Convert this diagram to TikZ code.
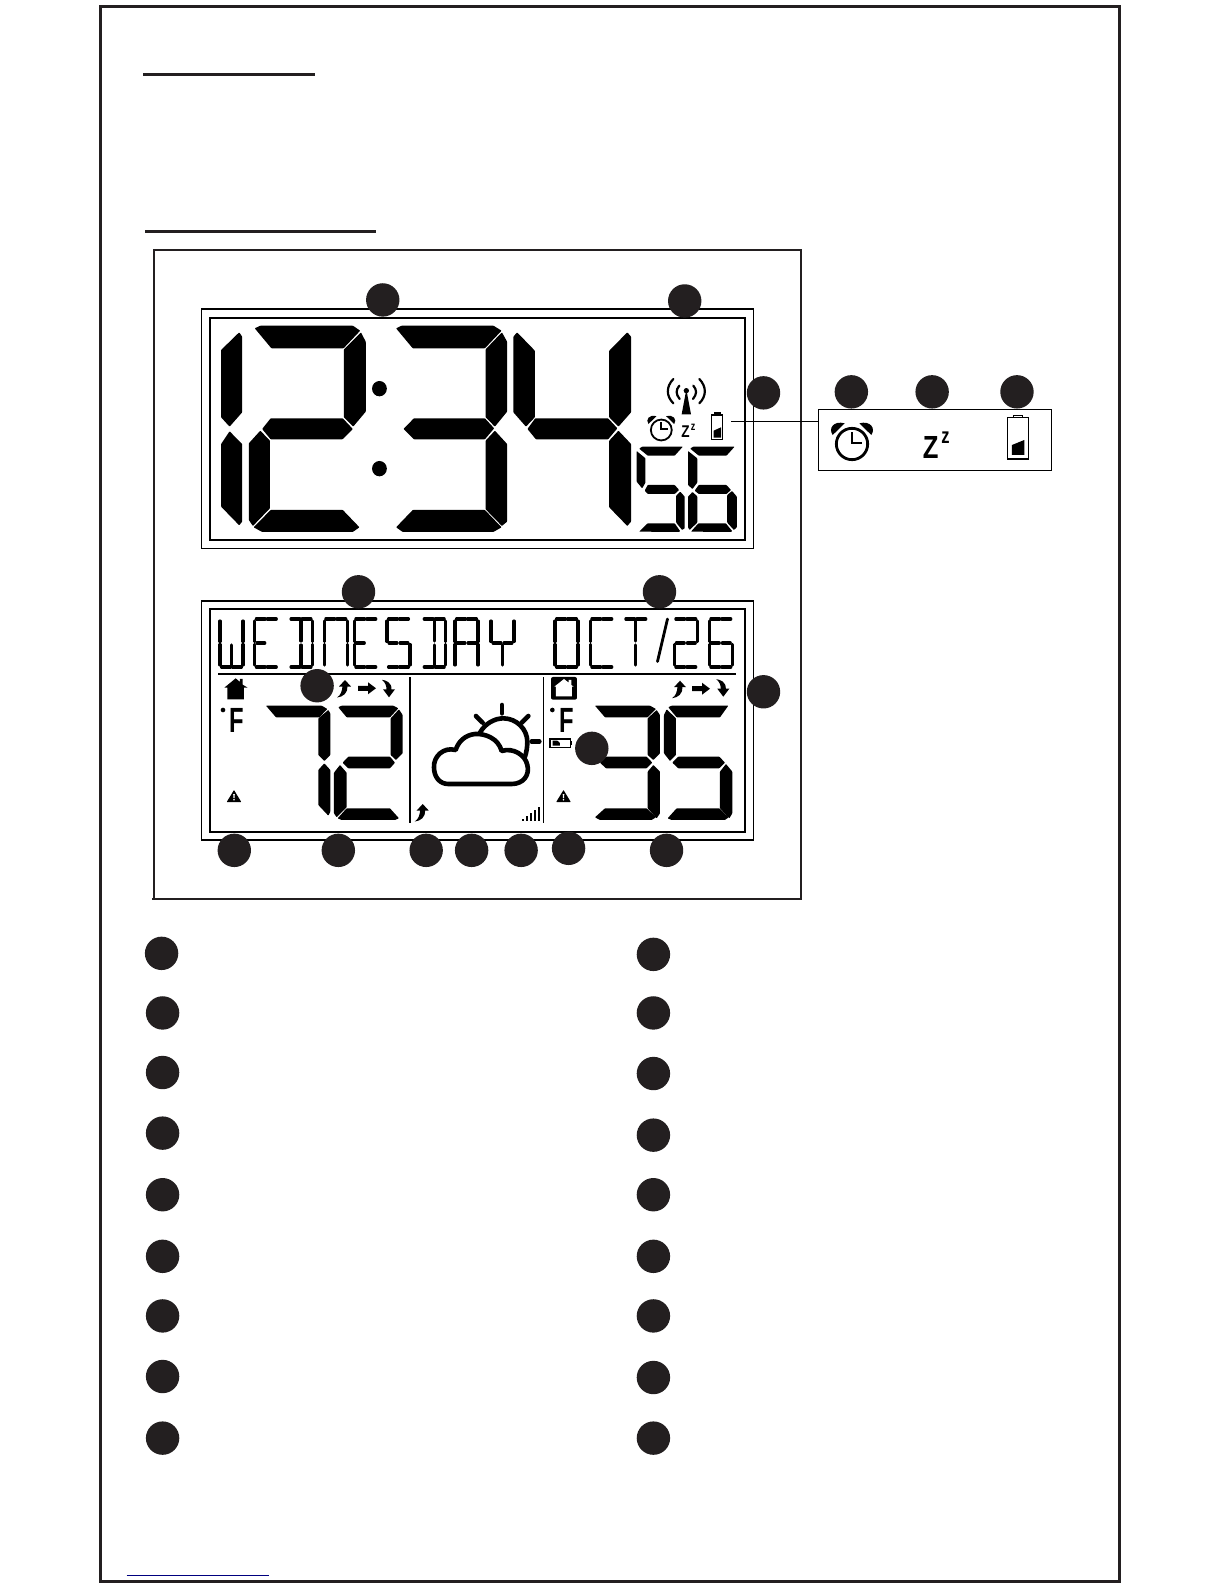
\documentclass[tikz,border=0pt]{standalone}
\usepackage{fontspec}
\setmainfont{Liberation Sans}
\definecolor{ink}{HTML}{231F20}
\definecolor{navy}{HTML}{00007F}
\tikzset{
  dotmark/.style={circle,fill=ink,inner sep=0pt,minimum size=33.4pt,draw=none},
  frameline/.style={draw=black,line width=1.2pt},
  innerline/.style={draw=black,line width=1.8pt},
  lcdline/.style={draw=black,line width=3.1pt,line cap=round},
  seg/.style={fill=black,rounded corners=0.6pt},
  wx/.style={draw=black,line width=4.6pt,line cap=round,line join=round},
  z1/.style={shift={(190,290)},x=0.37pt,y=-0.3333pt},
  z2/.style={shift={(190,590)},x=0.3333pt,y=-0.3333pt},
  z3/.style={shift={(480,590)},x=0.3333pt,y=-0.3333pt},
  z4/.style={shift={(640,370)},x=0.3333pt,y=-0.3333pt},
  z10/.style={shift={(420,690)},x=0.3333pt,y=-0.3333pt}
}
% 14-segment glyph parts, relative to glyph origin; 25 wide, 50 high
\newcommand\SgT{\draw[lcdline] (2.5,1)--(11.5,1) (13.5,1)--(22.5,1);}
\newcommand\SgB{\draw[lcdline] (2.5,49)--(11.5,49) (13.5,49)--(22.5,49);}
\newcommand\SgTL{\draw[lcdline] (1,3)--(1,23.5);}
\newcommand\SgBL{\draw[lcdline] (1,26.5)--(1,47);}
\newcommand\SgTR{\draw[lcdline] (24,3)--(24,23.5);}
\newcommand\SgBR{\draw[lcdline] (24,26.5)--(24,47);}
\newcommand\SgML{\draw[lcdline] (3,25)--(11,25);}
\newcommand\SgMR{\draw[lcdline] (14,25)--(22,25);}
\newcommand\SgCT{\draw[lcdline] (12.5,3)--(12.5,23);}
\newcommand\SgCB{\draw[lcdline] (12.5,27)--(12.5,47);}
\newcommand\lcdglyph[2]{\begin{scope}[shift={(#1,618)}]#2\end{scope}}
\newcommand\uparrowicon[2]{\begin{scope}[shift={(#1,#2)}]
  \fill (-6,6.5)--(0,0)--(6,6.5)--cycle;
  \fill (-2.5,6)--(2.5,6) .. controls (3,13) and (-2,17) .. (-8,17.5) .. controls (-4,15) and (-3,11) .. cycle;
\end{scope}}
\newcommand\rightarrowicon[2]{\begin{scope}[shift={(#1,#2)}]
  \fill (-18,-2.5)--(-8,-2.5)--(-8,-6)--(0,0)--(-8,6)--(-8,2.5)--(-18,2.5)--cycle;
\end{scope}}
\newcommand\downarrowicon[2]{\begin{scope}[shift={(#1,#2)}]
  \fill (-6,-8)--(0,0)--(6,-8)--cycle;
  \fill (-2.5,-7.5)--(2.5,-7.5) .. controls (3,-15) and (-3,-17) .. (-7,-17.5) .. controls (-4,-15) and (-2.5,-12) .. cycle;
\end{scope}}
\newcommand\alarmicon[4]{\begin{scope}[shift={(#1,#2)},x=#3pt,y=-#3pt]
  \draw[line width=#4pt] (0,0) circle[radius=47];
  \draw[line width=#4pt] (0,-36)--(0,-3)--(30,-3);
  \fill (-58,-27) .. controls (-72,-47) and (-55,-71) .. (-22,-62) -- cycle;
  \fill (58,-27) .. controls (72,-47) and (55,-71) .. (22,-62) -- cycle;
\end{scope}}
\newcommand\warnicon[2]{\begin{scope}[shift={(#1,#2)}]
  \fill[rounded corners=0.5pt] (-7.3,12)--(0,0)--(7.3,12)--cycle;
  \fill[white] (-0.8,4)--(0.8,4)--(0.5,8)--(-0.5,8)--cycle (0,9.7) circle[radius=0.9];
\end{scope}}
\begin{document}
\begin{tikzpicture}[x=1pt,y=-1pt]
\useasboundingbox (0,0) rectangle (1224,1584);
\fill[white] (0,0) rectangle (1224,1584);
% page frame, heading rules, footer rule
\draw[ink,line width=3pt] (100.7,6.5) rectangle (1119.3,1581.5);
\draw[ink,line width=3pt] (143,74.3)--(315,74.3);
\draw[ink,line width=3pt] (145,231.3)--(376,231.3);
\draw[navy,line width=1pt] (126.7,1575)--(268.7,1575);
% panel
\draw[ink,line width=1.7pt] (154,250.3) rectangle (801,899);
\draw[ink,line width=1.7pt] (152,899)--(154,899);
% upper display
\draw[frameline] (201.5,309) rectangle (753.6,548.4);
\draw[innerline] (209.6,318) rectangle (745.2,540);
\begin{scope}[z1]
% digit 1
\fill[seg] (133,127)--(141,140)--(141,367)--(107,410)--(84,382)--(84,180)--cycle;
\fill[seg] (107,424)--(141,462)--(141,695)--(133,706)--(84,650)--(84,462)--cycle;
% digit 2
\fill[seg] (175,115)--(190,107)--(440,107)--(460,122)--(415,175)--(220,175)--cycle;
\fill[seg] (462,127)--(475,155)--(475,365)--(441,410)--(416,382)--(416,178)--cycle;
\fill[seg] (195,417)--(218,385)--(413,385)--(440,417)--(412,448)--(218,448)--cycle;
\fill[seg] (190,422)--(216,452)--(216,655)--(170,708)--(159,690)--(159,460)--cycle;
\fill[seg] (172,712)--(218,660)--(413,660)--(458,712)--(440,726)--(195,726)--cycle;
% colon
\fill (512,296) ellipse[x radius=20,y radius=23];
\fill (512,536) ellipse[x radius=20,y radius=23];
% digit 3
\fill[seg] (557,115)--(572,107)--(820,107)--(842,122)--(797,175)--(602,175)--cycle;
\fill[seg] (843,127)--(857,155)--(857,365)--(824,410)--(799,382)--(799,178)--cycle;
\fill[seg] (577,417)--(605,385)--(797,385)--(822,415)--(797,448)--(605,448)--cycle;
\fill[seg] (824,422)--(857,462)--(857,695)--(843,708)--(799,658)--(799,452)--cycle;
\fill[seg] (557,712)--(602,660)--(797,660)--(842,712)--(820,726)--(575,726)--cycle;
% digit 4
\fill[seg] (884,127)--(932,182)--(932,382)--(908,410)--(874,367)--(874,140)--cycle;
\fill[seg] (1182,127)--(1192,140)--(1192,367)--(1158,410)--(1133,382)--(1133,182)--cycle;
\fill[seg] (912,417)--(933,385)--(1130,385)--(1155,415)--(1130,448)--(935,448)--cycle;
\fill[seg] (1158,422)--(1192,462)--(1192,695)--(1182,708)--(1133,652)--(1133,452)--cycle;
% seconds 5
\fill[seg] (1214,476)--(1222,470)--(1332,470)--(1310,497)--(1237,497)--cycle;
\fill[seg] (1207,483)--(1231,505)--(1231,578)--(1222,595)--(1207,575)--cycle;
\fill[seg] (1229,602)--(1237,585)--(1310,585)--(1322,600)--(1310,612)--(1237,612)--cycle;
\fill[seg] (1325,605)--(1337,620)--(1337,715)--(1330,720)--(1314,698)--(1314,617)--cycle;
\fill[seg] (1214,725)--(1237,700)--(1310,700)--(1325,724)--(1320,726)--cycle;
% seconds 6
\fill[seg] (1352,476)--(1360,470)--(1472,470)--(1450,497)--(1375,497)--cycle;
\fill[seg] (1346,483)--(1371,505)--(1371,578)--(1358,597)--(1346,585)--cycle;
\fill[seg] (1364,602)--(1375,585)--(1450,585)--(1462,600)--(1450,612)--(1375,612)--cycle;
\fill[seg] (1358,606)--(1371,619)--(1371,698)--(1350,720)--(1346,712)--(1346,620)--cycle;
\fill[seg] (1465,603)--(1478,620)--(1478,712)--(1470,720)--(1452,698)--(1452,615)--cycle;
\fill[seg] (1354,725)--(1374,700)--(1448,700)--(1466,724)--(1460,726)--cycle;
\end{scope}
% upper status icons
\begin{scope}[z4]
\fill (139,58)--(125,133)--(153,133)--cycle;
\fill (139,62) circle[radius=8];
\draw[line width=2.2pt,line cap=round] (100,27) .. controls (78,50) and (78,78) .. (100,100);
\draw[line width=2.2pt,line cap=round] (178,27) .. controls (200,50) and (200,78) .. (178,100);
\draw[line width=2.2pt,line cap=round] (118,47) .. controls (107,60) and (107,72) .. (119,87);
\draw[line width=2.2pt,line cap=round] (160,47) .. controls (171,60) and (171,72) .. (159,87);
% small battery
\draw[line width=1.1pt] (215,135) rectangle (248,208);
\draw[line width=1.1pt] (223,135)--(223,129)--(241,129)--(241,135);
\fill (221,203)--(243,203)--(243,172)--(221,182)--cycle;
% large battery
\draw[line width=1.5pt] (1102,143) rectangle (1166,267);
\draw[line width=1.5pt] (1120,143)--(1120,137)--(1148,137)--(1148,143);
\fill (1116,255)--(1153,255)--(1153,210)--(1116,225)--cycle;
\end{scope}
\alarmicon{661.3}{430}{0.2222}{1.8}
\alarmicon{852}{444}{0.3333}{2.8}
\node[inner sep=0pt,xscale=0.8] (zsmall) at (685.5,432) {\fontsize{17}{17}\selectfont\bfseries Z};
\node[inner sep=0pt,xscale=0.75] (zsup) at (693,427) {\fontsize{12}{12}\selectfont\bfseries z};
\node[inner sep=0pt,xscale=0.8] (zbig) at (930.7,447) {\fontsize{32}{32}\selectfont\bfseries Z};
\node[inner sep=0pt,xscale=0.75] (zbigsup) at (945.5,437.5) {\fontsize{22}{22}\selectfont\bfseries z};
\node[draw=black,line width=1pt,inner sep=0pt,anchor=north west,minimum width=232.7pt,minimum height=60.7pt] (zzbox) at (818.3,409.3) {};
\coordinate (battwire) at (731,421.7);
\draw[black,line width=1pt] (battwire)--(battwire-|zzbox.west);
% lower display
\draw[frameline] (201.3,601) rectangle (753.3,840);
\draw[innerline] (210,609.3) rectangle (745.2,831.7);
\draw[line width=1.8pt] (218.3,674)--(735.7,674);
\draw[line width=1.5pt] (410,677.3)--(410,823.3);
\draw[line width=1.5pt] (543.7,677.3)--(543.7,823.3);
% date text
\lcdglyph{219}{\SgTL\SgBL\SgTR\SgBR\SgCB\SgB}
\lcdglyph{253.8}{\SgT\SgB\SgTL\SgBL\SgML}
\lcdglyph{288.5}{\SgT\SgB\SgTR\SgBR\SgCT\SgCB}
\lcdglyph{323.3}{\SgT\SgTL\SgBL\SgTR\SgBR}
\lcdglyph{353.3}{\SgT\SgB\SgTL\SgBL\SgML}
\lcdglyph{386}{\SgT\SgB\SgTL\SgML\SgMR\SgBR}
\lcdglyph{421.7}{\SgT\SgB\SgTR\SgBR\SgCT\SgCB}
\lcdglyph{454}{\SgT\SgTL\SgBL\SgTR\SgBR\SgML\SgMR}
\lcdglyph{490}{\SgTL\SgTR\SgML\SgMR\SgCB}
\lcdglyph{554}{\SgT\SgB\SgTL\SgBL\SgTR\SgBR}
\lcdglyph{589.3}{\SgT\SgB\SgTL\SgBL}
\lcdglyph{623.3}{\SgT\SgCT\SgCB}
\draw[line width=2.8pt,line cap=round] (657.5,661.5)--(667.5,619);
\lcdglyph{673.3}{\SgT\SgB\SgTR\SgBL\SgML\SgMR}
\lcdglyph{708.3}{\SgT\SgB\SgTL\SgBL\SgBR\SgML\SgMR}
% inside digits 72
\begin{scope}[z2]
\fill[seg] (228,347)--(395,347)--(412,357)--(388,382)--(258,382)--cycle;
\fill[seg] (415,360)--(421,370)--(421,495)--(403,513)--(385,495)--(385,385)--cycle;
\fill[seg] (403,520)--(421,540)--(421,665)--(415,677)--(385,645)--(385,540)--cycle;
\fill[seg] (445,352)--(455,347)--(610,347)--(625,355)--(600,382)--(470,382)--cycle;
\fill[seg] (627,358)--(638,375)--(638,490)--(618,510)--(602,495)--(602,385)--cycle;
\fill[seg] (458,518)--(475,500)--(600,500)--(615,518)--(600,535)--(475,535)--cycle;
\fill[seg] (450,525)--(470,548)--(470,652)--(440,682)--(432,670)--(432,548)--cycle;
\fill[seg] (443,685)--(470,655)--(600,655)--(627,685)--(615,690)--(455,690)--cycle;
% solid house
\fill (103,293)--(137,265)--(150,276)--(150,267)--(158,267)--(158,284)--(173,293)--(162,293)--(162,328)--(112,328)--(112,293)--cycle;
\fill (99,360) circle[radius=7];
\end{scope}
% outdoor digits 35
\begin{scope}[z3]
\fill[seg] (345,347)--(510,347)--(528,357)--(503,382)--(375,382)--cycle;
\fill[seg] (530,360)--(540,375)--(540,490)--(520,510)--(503,495)--(503,385)--cycle;
\fill[seg] (360,518)--(378,500)--(500,500)--(517,518)--(500,535)--(378,535)--cycle;
\fill[seg] (520,525)--(540,545)--(540,670)--(530,685)--(503,655)--(503,545)--cycle;
\fill[seg] (345,682)--(375,655)--(500,655)--(528,682)--(515,690)--(360,690)--cycle;
\fill[seg] (565,352)--(575,347)--(745,347)--(720,382)--(590,382)--cycle;
\fill[seg] (560,358)--(588,385)--(588,495)--(570,513)--(552,490)--(552,375)--cycle;
\fill[seg] (577,518)--(595,500)--(718,500)--(735,518)--(718,535)--(595,535)--cycle;
\fill[seg] (738,522)--(757,545)--(757,670)--(748,685)--(720,655)--(720,545)--cycle;
\fill[seg] (563,685)--(590,655)--(718,655)--(746,682)--(735,690)--(575,690)--cycle;
% outlined house
\fill[rounded corners=2pt] (213,261) rectangle (291,329);
\fill[white] (223,290)--(252,267)--(266,278)--(266,270)--(274,270)--(274,285)--(281,290)--(276,290)--(276,319)--(228,319)--(228,290)--cycle;
\fill (217,360) circle[radius=7];
% outdoor small battery
\draw[line width=1.1pt] (210,447) rectangle (272,472);
\fill (272,453) rectangle (276,466);
\fill (218,452)--(232,452)--(240,459)--(240,467)--(218,467)--cycle;
% signal bars
\fill (127,688) rectangle (132,692);
\fill (138,678) rectangle (144,692);
\fill (150,668) rectangle (156,692);
\fill (162,660) rectangle (168,692);
\fill (175,651) rectangle (181,692);
\end{scope}
\node[inner sep=0pt,xscale=0.68] (fleft) at (237,720) {\fontsize{35}{35}\selectfont\bfseries F};
\node[inner sep=0pt,xscale=0.68] (fright) at (566.5,720) {\fontsize{35}{35}\selectfont\bfseries F};
\warnicon{234}{790}
\warnicon{563.5}{790}
\uparrowicon{345}{680}
\rightarrowicon{376}{688.3}
\downarrowicon{389}{697.3}
\uparrowicon{680}{680.7}
\rightarrowicon{710}{688.7}
\downarrowicon{723.3}{696.7}
\uparrowicon{422.7}{804}
% weather
\begin{scope}[z10]
\draw[wx] (180,128) .. controls (195,100) and (225,85) .. (250,85) .. controls (290,85) and (322,118) .. (322,155) .. controls (322,170) and (320,185) .. (315,200);
\draw[wx] (246,45)--(246,70);
\draw[wx] (168,78)--(188,98);
\draw[wx] (325,78)--(305,98);
\draw[wx] (335,155)--(358,155);
\draw[wx] (85,282)--(275,282) .. controls (310,282) and (330,255) .. (322,225) .. controls (316,195) and (280,172) .. (245,183) .. controls (235,145) and (195,130) .. (165,132) .. controls (135,135) and (115,155) .. (107,180) .. controls (70,170) and (40,200) .. (42,232) .. controls (42,262) and (60,282) .. (85,282) -- cycle;
\end{scope}
% numbered markers
\begin{scope}[x=1.0099pt,y=-1.0099pt]
\foreach \px/\py [count=\n] in {379/297,678/298,756/389,843/388,923/388,1007/388,355/586,653/586,756/685,314/679,586/741,232/842,335/842,422/842,467/842,516/842,563/840,660/842,160/944,161/1003,161/1062,161/1122,161/1183,161/1244,161/1303,161/1363,161/1424,647/945,647/1003,647/1063,647/1124,647/1183,647/1244,647/1303,647/1364,647/1424}
  \node[dotmark] (mark\n) at (\px,\py) {};
\end{scope}
\end{tikzpicture}
\end{document}
